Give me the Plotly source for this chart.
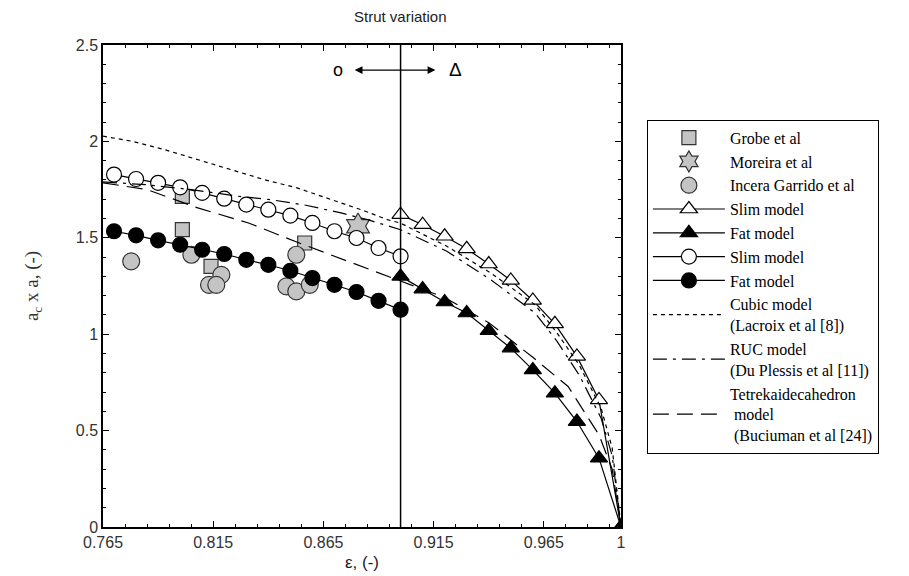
import plotly.graph_objects as go

# ---- data ----
eps_circ = [0.77, 0.78, 0.79, 0.80, 0.81, 0.82, 0.83, 0.84, 0.85, 0.86, 0.87, 0.88, 0.89, 0.90]
slim_circ = [1.828, 1.805, 1.785, 1.762, 1.733, 1.703, 1.672, 1.646, 1.615, 1.577, 1.534, 1.499, 1.447, 1.404]
fat_circ = [1.534, 1.513, 1.487, 1.464, 1.438, 1.416, 1.386, 1.360, 1.329, 1.291, 1.256, 1.219, 1.173, 1.127]

eps_tri = [0.90, 0.91, 0.92, 0.93, 0.94, 0.95, 0.96, 0.97, 0.98, 0.99, 1.00]
slim_tri = [1.620, 1.568, 1.508, 1.443, 1.364, 1.279, 1.175, 1.054, 0.885, 0.659, 0.0]
fat_tri = [1.300, 1.234, 1.167, 1.110, 1.018, 0.928, 0.815, 0.694, 0.547, 0.357, 0.0]

grobe_x = [0.801, 0.801, 0.814, 0.8565]
grobe_y = [1.715, 1.542, 1.352, 1.473]
moreira_x = [0.8807]
moreira_y = [1.560]
incera_x = [0.7778, 0.8051, 0.8187, 0.8131, 0.8164, 0.8527, 0.8482, 0.8527, 0.8588]
incera_y = [1.378, 1.412, 1.308, 1.256, 1.256, 1.412, 1.248, 1.222, 1.256]

cubic_x = [0.765, 0.778, 0.793, 0.808, 0.823, 0.838, 0.853, 0.869, 0.884, 0.894, 0.90,
           0.921, 0.941, 0.961, 0.971, 0.981, 0.991, 0.996, 1.0]
cubic_y = [2.027, 2.001, 1.957, 1.906, 1.854, 1.802, 1.759, 1.698, 1.638, 1.594, 1.576,
           1.456, 1.317, 1.153, 1.006, 0.841, 0.616, 0.41, 0.0]
ruc_x = [0.765, 0.785, 0.805, 0.826, 0.841, 0.857, 0.873, 0.885, 0.90, 0.921, 0.941,
         0.961, 0.971, 0.981, 0.991, 0.996, 1.0]
ruc_y = [1.79, 1.775, 1.75, 1.716, 1.698, 1.669, 1.629, 1.594, 1.542, 1.430, 1.282,
         1.110, 0.963, 0.789, 0.564, 0.37, 0.0]
tetra_x = [0.765, 0.785, 0.808, 0.831, 0.854, 0.876, 0.896, 0.92, 0.94, 0.96, 0.976, 0.99, 0.996, 1.0]
tetra_y = [1.785, 1.750, 1.655, 1.577, 1.473, 1.378, 1.291, 1.19, 1.06, 0.88, 0.729, 0.478, 0.3, 0.0]

x_tickvals = [0.765, 0.815, 0.865, 0.915, 0.965, 1.0]
x_ticktext = ["0.765", "0.815", "0.865", "0.915", "0.965", "1"]
y_tickvals = [0, 0.5, 1, 1.5, 2, 2.5]
y_ticktext = ["0", "0.5", "1", "1.5", "2", "2.5"]

GREY = "#c4c4c4"
EDGE = "#333333"

fig = go.Figure()

fig.add_trace(go.Scatter(x=grobe_x, y=grobe_y, mode="markers", name="Grobe et al",
                         marker=dict(symbol="square", size=14, color=GREY, line=dict(color=EDGE, width=1.2))))
fig.add_trace(go.Scatter(x=moreira_x, y=moreira_y, mode="markers", name="Moreira et al",
                         marker=dict(symbol="hexagram", size=20, color=GREY, line=dict(color=EDGE, width=1.2))))
fig.add_trace(go.Scatter(x=incera_x, y=incera_y, mode="markers", name="Incera Garrido et al",
                         marker=dict(symbol="circle", size=17, color=GREY, line=dict(color=EDGE, width=1.2))))
# model lines
fig.add_trace(go.Scatter(x=eps_tri, y=slim_tri, mode="lines+markers", name="Slim model",
                         line=dict(color="black", width=1.2),
                         marker=dict(symbol="triangle-up", size=15, color="white", line=dict(color="black", width=1.2))))
fig.add_trace(go.Scatter(x=eps_tri, y=fat_tri, mode="lines+markers", name="Fat model",
                         line=dict(color="black", width=1.2),
                         marker=dict(symbol="triangle-up", size=15, color="black", line=dict(color="black", width=1.2))))
fig.add_trace(go.Scatter(x=eps_circ, y=slim_circ, mode="lines+markers", name="Slim model",
                         line=dict(color="black", width=1.2),
                         marker=dict(symbol="circle", size=15, color="white", line=dict(color="black", width=1.2))))
fig.add_trace(go.Scatter(x=eps_circ, y=fat_circ, mode="lines+markers", name="Fat model",
                         line=dict(color="black", width=1.2),
                         marker=dict(symbol="circle", size=15, color="black", line=dict(color="black", width=1.2))))
fig.add_trace(go.Scatter(x=cubic_x, y=cubic_y, mode="lines", name="Cubic model<br>(Lacroix et al [8])",
                         line=dict(color="black", width=1.2, dash="4px,4px")))
fig.add_trace(go.Scatter(x=ruc_x, y=ruc_y, mode="lines", name="RUC model<br>(Du Plessis et al [11])",
                         line=dict(color="black", width=1.2, dash="14px,6px,3px,6px")))
fig.add_trace(go.Scatter(x=tetra_x, y=tetra_y, mode="lines",
                         name="Tetrekaidecahedron<br> model<br> (Buciuman et al [24])",
                         line=dict(color="black", width=1.2, dash="16px,8px")))

# vertical reference line
fig.add_vline(x=0.9, line=dict(color="black", width=1.5))

# annotations
fig.add_annotation(x=0.9, y=1.06, xref="x", yref="paper", text="Strut variation", showarrow=False,
                   font=dict(family="Liberation Sans, Arial", size=15, color="#222"), yanchor="middle")
fig.add_annotation(x=0.9158, y=2.37, ax=0.8785, ay=2.37, xref="x", yref="y", axref="x", ayref="y",
                   text="", showarrow=True, arrowhead=2, arrowside="end+start", arrowsize=1.2,
                   arrowwidth=1.3, arrowcolor="black")
fig.add_annotation(x=0.8715, y=2.37, xref="x", yref="y", text="o", showarrow=False,
                   font=dict(family="Liberation Sans, Arial", size=18, color="black"))
fig.add_annotation(x=0.925, y=2.375, xref="x", yref="y", text="Δ", showarrow=False,
                   font=dict(family="Liberation Sans, Arial", size=19, color="black"))

axis_common = dict(showline=True, linecolor="black", linewidth=1.5, mirror="allticks",
                   ticks="inside", ticklen=6, tickwidth=1, tickcolor="black",
                   showgrid=False, zeroline=False,
                   tickfont=dict(family="Liberation Sans Narrow, Liberation Sans, Arial", size=16, color="#333"))

fig.update_xaxes(range=[0.765, 1.0], tickmode="array", tickvals=x_tickvals, ticktext=x_ticktext,
                 minor=dict(ticks="inside", ticklen=3, tickcolor="black", tick0=0.765, dtick=0.01),
                 title=dict(text="ε, (-)", font=dict(family="Liberation Sans, Arial", size=17, color="#222"),
                            standoff=6),
                 **axis_common)
fig.update_yaxes(range=[0, 2.5], tickmode="array", tickvals=y_tickvals, ticktext=y_ticktext,
                 minor=dict(ticks="inside", ticklen=3, tickcolor="black", tick0=0, dtick=0.1),
                 title=dict(text="a<sub>c</sub> x a, (-)",
                            font=dict(family="Liberation Serif, Times New Roman", size=19, color="#333"),
                            standoff=32),
                 **axis_common)

fig.update_layout(
    width=909, height=576,
    margin=dict(l=95, r=296, t=37, b=57, autoexpand=False),
    plot_bgcolor="white", paper_bgcolor="white",
    legend=dict(x=1.05, y=0.845, xanchor="left", yanchor="top",
                bgcolor="white", bordercolor="black", borderwidth=1,
                font=dict(family="Liberation Serif, Times New Roman", size=16, color="black"),
                itemwidth=72, tracegroupgap=0),
)

fig.write_html("out.html")
